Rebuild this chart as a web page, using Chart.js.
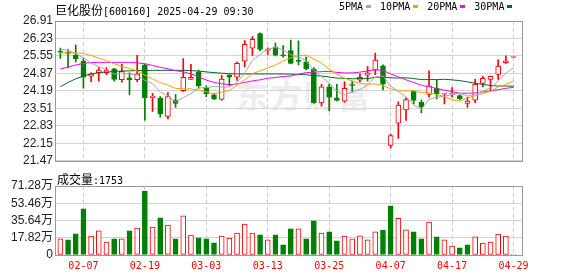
<!DOCTYPE html>
<html lang="zh-CN">
<head>
<meta charset="utf-8">
<title>巨化股份 K线</title>
<script src="https://cdn.jsdelivr.net/npm/chart.js@4.4.1/dist/chart.umd.min.js"></script>
<style>
  html, body { margin: 0; padding: 0; background: #fff; }
  #wrap { position: relative; width: 578px; height: 276px; overflow: hidden; }
  #wrap canvas { position: absolute; left: 0; z-index: 2; }
  #price-chart { top: 0; }
  #vol-chart { top: 170px; }
  .txt { position: absolute; white-space: nowrap; color: #000; line-height: 16px; z-index: 3; }
  .cjk { font: 12px 'Noto Sans CJK SC', sans-serif; }
  .mono { font: 10px 'DejaVu Sans Mono', monospace; }
  #title { left: 55px; top: 1px; }
  #legend { left: 339px; top: 1px; display: flex; align-items: center; }
  #legend i { display: inline-block; width: 5px; height: 3px; margin: 0 9px 0 3px; }
  #vol-title { left: 57px; top: 170px; }
  #watermark { position: absolute; left: 236px; top: 77px; z-index: 1; font: bold 32px 'Noto Sans CJK SC', sans-serif; color: #ededed; letter-spacing: 2px; line-height: 34px; }
</style>
</head>
<body>
<div id="wrap">
  <div id="watermark">东方财富</div>
  <canvas id="price-chart" width="578" height="170"></canvas>
  <canvas id="vol-chart" width="578" height="106"></canvas>
  <div id="title" class="txt"><span class="cjk">巨化股份</span><span class="mono">[600160] 2025-04-29 09:30</span></div>
  <div id="legend" class="txt mono"></div>
  <div id="vol-title" class="txt"><span class="cjk">成交量</span><span class="mono" id="vol-last"></span></div>
</div>
<script>
const dates = [
  '01-27', '02-05', '02-06', '02-07', '02-10', '02-11', '02-12', '02-13', '02-14', '02-17',
  '02-18', '02-19', '02-20', '02-21', '02-24', '02-25', '02-26', '02-27', '02-28', '03-03',
  '03-04', '03-05', '03-06', '03-07', '03-10', '03-11', '03-12', '03-13', '03-14', '03-17',
  '03-18', '03-19', '03-20', '03-21', '03-24', '03-25', '03-26', '03-27', '03-28', '03-31',
  '04-01', '04-02', '04-03', '04-07', '04-08', '04-09', '04-10', '04-11', '04-14', '04-15',
  '04-16', '04-17', '04-18', '04-21', '04-22', '04-23', '04-24', '04-25', '04-28', '04-29'
];
const opens = [
  25.72, 25.69, 25.58, 25.35, 24.76, 24.90, 24.90, 25.05, 24.63, 24.70,
  24.63, 25.20, 23.93, 23.90, 23.20, 23.83, 24.20, 24.64, 24.92, 24.32,
  24.04, 23.86, 24.82, 24.72, 25.35, 25.85, 26.42, 25.77, 25.90, 25.58,
  25.76, 25.36, 25.32, 25.04, 23.72, 24.35, 23.92, 23.79, 24.42, 24.61,
  24.80, 25.01, 25.17, 22.07, 22.93, 23.45, 24.17, 23.75, 24.05, 24.30,
  24.07, 24.06, 24.01, 23.70, 23.83, 24.48, 24.64, 24.83, 25.29, 25.49
];
const highs = [
  25.86, 25.80, 25.97, 25.45, 24.89, 25.10, 25.10, 25.07, 25.22, 24.89,
  25.57, 25.22, 24.10, 23.97, 24.12, 24.05, 25.45, 25.22, 25.00, 24.39,
  24.10, 24.80, 24.82, 25.32, 26.15, 26.30, 26.45, 25.87, 26.05, 25.95,
  26.17, 26.14, 25.51, 25.10, 24.45, 24.45, 24.45, 24.54, 24.57, 24.85,
  25.14, 25.66, 25.20, 22.51, 23.76, 23.92, 24.20, 23.83, 24.97, 24.60,
  24.10, 24.32, 24.04, 23.95, 24.64, 24.76, 24.77, 25.40, 25.55, 25.51
];
const lows = [
  25.45, 25.08, 25.32, 24.30, 24.55, 24.57, 24.82, 24.57, 24.53, 24.04,
  24.55, 23.05, 23.39, 23.17, 23.10, 23.55, 24.17, 24.64, 24.30, 23.97,
  23.85, 23.83, 24.39, 24.60, 25.12, 25.57, 25.75, 25.60, 25.55, 25.50,
  25.24, 25.20, 25.01, 23.70, 23.60, 23.41, 23.80, 23.75, 24.14, 24.54,
  24.57, 24.82, 24.23, 21.97, 22.34, 23.04, 23.68, 23.33, 23.95, 23.88,
  23.68, 23.95, 23.85, 23.55, 23.73, 24.35, 24.20, 24.64, 25.26, 25.49
];
const closes = [
  25.70, 25.65, 25.43, 24.72, 24.85, 25.00, 25.00, 24.64, 24.95, 24.63,
  24.85, 23.93, 23.98, 23.29, 23.97, 23.70, 24.72, 24.72, 24.39, 24.07,
  23.89, 24.65, 24.72, 25.26, 26.00, 26.20, 25.80, 25.80, 25.58, 25.55,
  25.26, 25.34, 25.05, 23.73, 24.35, 23.95, 23.82, 24.29, 24.40, 24.72,
  24.89, 25.39, 24.45, 22.45, 23.64, 23.85, 23.82, 23.58, 24.39, 24.07,
  24.08, 24.10, 23.89, 23.79, 24.45, 24.68, 24.76, 25.16, 25.36, 25.51
];
// 成交量，单位：万手
const volumes = [
  16.8, 15.8, 21.9, 47.6, 19.5, 25.0, 13.4, 16.8, 16.8, 25.0,
  27.8, 66.1, 28.8, 38.4, 30.8, 16.8, 40.4, 20.6, 17.8, 16.8,
  12.7, 19.5, 17.5, 22.6, 31.9, 22.6, 20.9, 15.8, 20.9, 10.6,
  27.1, 27.1, 16.8, 35.3, 22.6, 24.0, 14.7, 19.5, 16.8, 19.9,
  15.8, 24.0, 25.4, 50.7, 38.0, 26.0, 24.0, 16.8, 33.9, 18.8,
  15.8, 9.3, 7.5, 10.6, 18.8, 12.3, 13.4, 21.6, 19.5, 0.18
];
const ma5 = [
  25.82, 25.76, 25.65, 25.47, 25.27, 25.13, 25.00, 24.84, 24.89, 24.84,
  24.81, 24.60, 24.47, 24.14, 24.00, 23.77, 23.93, 24.08, 24.30, 24.32,
  24.36, 24.34, 24.34, 24.52, 24.90, 25.37, 25.60, 25.81, 25.88, 25.79,
  25.60, 25.51, 25.36, 24.99, 24.75, 24.48, 24.18, 24.03, 24.16, 24.24,
  24.42, 24.74, 24.77, 24.38, 24.16, 23.96, 23.64, 23.47, 23.86, 23.94,
  23.99, 24.04, 24.11, 23.99, 24.06, 24.18, 24.31, 24.57, 24.88, 25.09
];
const ma10 = [
  25.66, 25.67, 25.67, 25.65, 25.57, 25.47, 25.37, 25.25, 25.14, 25.06,
  24.97, 24.80, 24.66, 24.51, 24.42, 24.29, 24.27, 24.27, 24.22, 24.16,
  24.07, 24.14, 24.21, 24.41, 24.61, 24.86, 24.97, 25.08, 25.20, 25.35,
  25.48, 25.55, 25.58, 25.43, 25.27, 25.04, 24.84, 24.69, 24.57, 24.49,
  24.45, 24.46, 24.40, 24.27, 24.20, 24.19, 24.19, 24.12, 24.12, 24.05,
  23.97, 23.84, 23.79, 23.92, 24.00, 24.09, 24.18, 24.34, 24.44, 24.58
];
const ma20 = [
  25.04, 25.12, 25.20, 25.26, 25.29, 25.30, 25.30, 25.30, 25.30, 25.30,
  25.28, 25.25, 25.18, 25.11, 25.05, 24.98, 24.93, 24.85, 24.74, 24.61,
  24.52, 24.47, 24.43, 24.46, 24.52, 24.58, 24.62, 24.68, 24.71, 24.75,
  24.77, 24.84, 24.90, 24.92, 24.94, 24.95, 24.91, 24.89, 24.89, 24.92,
  24.97, 25.01, 24.99, 24.85, 24.74, 24.62, 24.52, 24.41, 24.35, 24.28,
  24.22, 24.16, 24.10, 24.10, 24.11, 24.15, 24.19, 24.24, 24.29, 24.33
];
const ma30 = [
  24.35, 24.52, 24.66, 24.77, 24.85, 24.90, 24.93, 24.95, 24.96, 24.97,
  24.98, 24.98, 24.99, 24.99, 24.99, 24.99, 24.99, 24.98, 24.96, 24.93,
  24.90, 24.88, 24.86, 24.85, 24.85, 24.85, 24.85, 24.85, 24.85, 24.85,
  24.84, 24.83, 24.82, 24.78, 24.77, 24.73, 24.69, 24.68, 24.66, 24.67,
  24.67, 24.72, 24.73, 24.70, 24.69, 24.70, 24.67, 24.63, 24.63, 24.63,
  24.64, 24.62, 24.59, 24.54, 24.49, 24.44, 24.40, 24.38, 24.38, 24.37
];
const priceTicks = [21.47, 22.15, 22.83, 23.51, 24.19, 24.87, 25.55, 26.23, 26.91];
const volTicks = [0, 17.82, 35.64, 53.46, 71.28];
const dateTicks = ['02-07', '02-19', '03-03', '03-13', '03-25', '04-07', '04-17', '04-29'];
const maNames = ['5PMA', '10PMA', '20PMA', '30PMA'];
const maColors = ['#a6a6a6', '#f5a300', '#ff00ff', '#006a2e'];
const lastVolume = 1753;

const UP = '#ff0000';
const DOWN = '#008000';
const tickIndex = dateTicks.map(d => dates.indexOf(d));

// 图例 + 成交量标题
const legend = document.getElementById('legend');
maNames.forEach((name, k) => {
  const s = document.createElement('span');
  s.textContent = name;
  const m = document.createElement('i');
  m.style.background = maColors[k];
  legend.appendChild(s);
  legend.appendChild(m);
});
document.getElementById('vol-last').textContent = ':' + lastVolume;

const isUp = i => closes[i] >= opens[i];
const volUp = i => i === 0 || closes[i] >= closes[i - 1];

// 图表外框
const framePlugin = {
  id: 'frame',
  beforeDatasetsDraw(chart) {
    const { ctx, chartArea: a } = chart;
    ctx.save();
    ctx.strokeStyle = '#999999';
    ctx.lineWidth = 1;
    ctx.strokeRect(Math.round(a.left) + 0.5, Math.round(a.top) + 0.5,
      Math.round(a.right) - Math.round(a.left), Math.round(a.bottom) - Math.round(a.top));
    ctx.restore();
  }
};

function xScale(showLabels) {
  return {
    type: 'linear',
    min: -0.7,
    max: 60.1,
    offset: false,
    afterBuildTicks: s => { s.ticks = tickIndex.map(v => ({ value: v })); },
    afterFit: s => { s.height = showLabels ? 21 : 0; },
    grid: { color: '#cccccc', drawTicks: false, offset: false },
    border: { display: false, dash: [4, 3] },
    ticks: {
      display: showLabels,
      autoSkip: false,
      maxRotation: 0,
      padding: 5,
      color: '#ff0000',
      font: { family: "'DejaVu Sans Mono', monospace", size: 10 },
      callback: v => dates[v]
    }
  };
}

function yScale(min, max, values, fmt) {
  return {
    min: min,
    max: max,
    afterBuildTicks: s => { s.ticks = values.map(v => ({ value: v })); },
    afterFit: s => { s.width = 55; },
    grid: { color: '#d4d4d4', drawTicks: false },
    border: { display: false },
    ticks: {
      autoSkip: false,
      padding: 2,
      color: '#222222',
      font: { family: "'Liberation Sans', 'Noto Sans CJK SC', sans-serif", size: 12 },
      callback: fmt
    }
  };
}

const maSets = [ma5, ma10, ma20, ma30].map((arr, k) => ({
  type: 'line',
  label: maNames[k],
  data: arr.map((v, i) => ({ x: i, y: v })),
  borderColor: maColors[k],
  borderWidth: 1,
  pointRadius: 0,
  tension: 0,
  fill: false,
  order: k
}));

new Chart(document.getElementById('price-chart'), {
  type: 'bar',
  data: {
    datasets: [
      ...maSets,
      {
        label: 'body',
        data: dates.map((d, i) => ({ x: i, y: [opens[i], closes[i]] })),
        backgroundColor: c => isUp(c.dataIndex) ? '#ffffff' : DOWN,
        borderColor: c => isUp(c.dataIndex) ? UP : DOWN,
        borderWidth: 1,
        borderSkipped: false,
        barThickness: 5,
        minBarLength: 1,
        grouped: false,
        order: 10
      },
      {
        label: 'wick',
        data: dates.map((d, i) => ({ x: i, y: [lows[i], highs[i]] })),
        backgroundColor: c => isUp(c.dataIndex) ? UP : DOWN,
        borderWidth: 0,
        barThickness: 1,
        grouped: false,
        order: 11
      }
    ]
  },
  options: {
    responsive: false,
    animation: false,
    layout: { padding: { top: 21, right: 56, bottom: 4, left: 0 } },
    plugins: { legend: { display: false }, tooltip: { enabled: false } },
    scales: {
      x: xScale(false),
      y: yScale(21.47, 26.91, priceTicks, v => v.toFixed(2))
    }
  },
  plugins: [framePlugin]
});

new Chart(document.getElementById('vol-chart'), {
  type: 'bar',
  data: {
    datasets: [{
      label: '成交量',
      data: volumes.map((v, i) => ({ x: i, y: v })),
      backgroundColor: c => volUp(c.dataIndex) ? '#ffffff' : DOWN,
      borderColor: c => volUp(c.dataIndex) ? UP : DOWN,
      borderWidth: 1,
      borderSkipped: false,
      barThickness: 5,
      grouped: false
    }]
  },
  options: {
    responsive: false,
    animation: false,
    layout: { padding: { top: 16, right: 56, bottom: 0, left: 0 } },
    plugins: { legend: { display: false }, tooltip: { enabled: false } },
    scales: {
      x: xScale(true),
      y: yScale(0, 71.28, volTicks, v => v === 0 ? '0' : v.toFixed(2) + '万')
    }
  },
  plugins: [framePlugin]
});
</script>
</body>
</html>
